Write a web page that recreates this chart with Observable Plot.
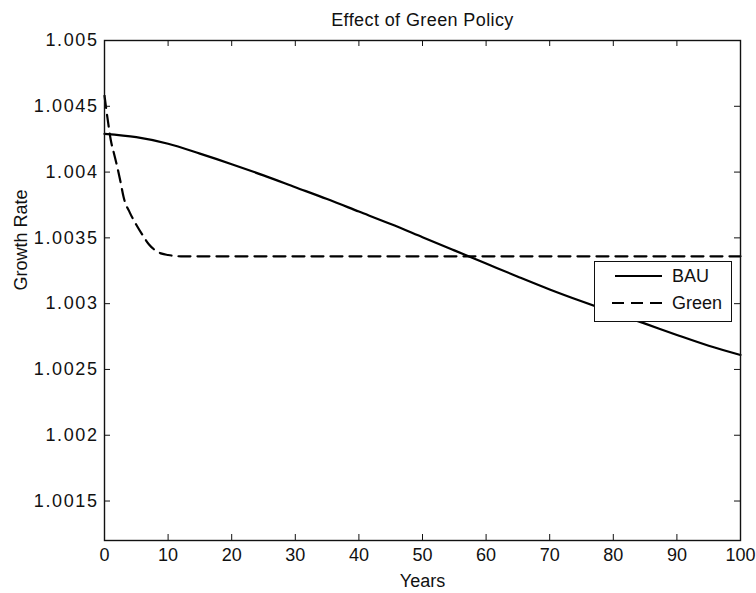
<!DOCTYPE html>
<html>
<head>
<meta charset="utf-8">
<script src="https://cdn.jsdelivr.net/npm/d3@7"></script>
<script src="https://cdn.jsdelivr.net/npm/@observablehq/plot@0.6"></script>
<style>
  body { margin: 0; background: white; }
  #wrap { position: relative; width: 756px; height: 593px; font-family: "Liberation Sans", Arial, sans-serif; }
  #legend { position: absolute; left: 594px; top: 261px; width: 138px; height: 61px; box-sizing: border-box; border: 1px solid #111; background: white; }
</style>
</head>
<body>
<div id="wrap"><div id="chart"></div><div id="legend"></div></div>
<script>
// ---- data ----
const titleText = "Effect of Green Policy";
const xLabel = "Years";
const yLabel = "Growth Rate";
const seriesNames = ["BAU", "Green"];

const bauYears = [0, 5, 10, 15, 20, 25, 30, 35, 40, 45, 50, 55, 60, 65, 70, 75, 80, 85, 90, 95, 100];
const bauValues = [1.00429, 1.004265, 1.004215, 1.00414, 1.00406, 1.003975, 1.003885, 1.003795, 1.0037, 1.003605,
                   1.003505, 1.003405, 1.003305, 1.003205, 1.003108, 1.003018, 1.002932, 1.002848, 1.002762, 1.00268, 1.00261];

const greenYears = [0, 0.5, 1, 1.5, 2, 2.5, 3, 4, 5, 6, 7, 8, 9, 10, 12, 14, 20, 30, 40, 50, 60, 70, 80, 90, 100];
const greenValues = [1.00458, 1.00440, 1.00424, 1.00414, 1.00404, 1.00393, 1.00381, 1.00369, 1.00360, 1.00352,
                     1.00345, 1.003405, 1.00338, 1.00337, 1.00336, 1.00336, 1.00336, 1.00336, 1.00336, 1.00336,
                     1.00336, 1.00336, 1.00336, 1.00336, 1.00336];

const xTicks = [0, 10, 20, 30, 40, 50, 60, 70, 80, 90, 100];
const yTicks = [1.0015, 1.002, 1.0025, 1.003, 1.0035, 1.004, 1.0045, 1.005];
const yTickLabels = ["1.0015", "1.002", "1.0025", "1.003", "1.0035", "1.004", "1.0045", "1.005"];
const xDomain = [0, 100];
const yDomain = [1.0012, 1.005];

// ---- layout ----
const W = 756, H = 593;
const mL = 104, mR = 16, mT = 40, mB = 53;
const fw = W - mL - mR, fh = H - mT - mB;
const tickLen = 6;
const ink = "#111";

const bau = bauYears.map((x, i) => ({x, y: bauValues[i]}));
const green = greenYears.map((x, i) => ({x, y: greenValues[i]}));
const yLab = new Map(yTicks.map((t, i) => [t, yTickLabels[i]]));

const chart = Plot.plot({
  width: W, height: H,
  marginLeft: mL, marginRight: mR, marginTop: mT, marginBottom: mB,
  style: {fontFamily: '"Liberation Sans", Arial, sans-serif', fontSize: "18px", background: "white", color: ink},
  x: {domain: xDomain, ticks: xTicks},
  y: {domain: yDomain, ticks: yTicks},
  marks: [
    Plot.line(green, {x: "x", y: "y", stroke: "black", strokeWidth: 2.2, strokeDasharray: "12,7", curve: "monotone-x"}),
    Plot.line(bau, {x: "x", y: "y", stroke: "black", strokeWidth: 2.2, curve: "monotone-x"}),
    // inward ticks on all four sides
    Plot.tickY(yTicks, {y: d => d, insetRight: fw - tickLen, stroke: ink}),
    Plot.tickY(yTicks, {y: d => d, insetLeft: fw - tickLen, stroke: ink}),
    Plot.tickX(xTicks, {x: d => d, insetTop: fh - tickLen, stroke: ink}),
    Plot.tickX(xTicks, {x: d => d, insetBottom: fh - tickLen, stroke: ink}),
    Plot.frame({stroke: ink, strokeWidth: 1.4}),
    Plot.axisX({ticks: xTicks, tickSize: 0, tickPadding: 8, label: null, fontSize: 18, fill: ink}),
    Plot.axisY({ticks: yTicks, tickSize: 0, tickPadding: 6, label: null, tickFormat: d => yLab.get(d), fontSize: 18, fill: ink}),
    Plot.text([titleText], {frameAnchor: "top", dy: -20, lineAnchor: "middle", fontSize: 18, fill: ink}),
    Plot.text([xLabel], {frameAnchor: "bottom", dy: 41, lineAnchor: "middle", fontSize: 18, fill: ink}),
    Plot.text([yLabel], {frameAnchor: "left", dx: -83, rotate: -90, lineAnchor: "middle", fontSize: 18, fill: ink})
  ]
});
document.getElementById("chart").appendChild(chart);
d3.select(chart).selectAll('g[aria-label="y-axis tick label"] text').style("letter-spacing", "1.6px");
d3.select(chart).selectAll('g[aria-label="text"] text').filter(function() { return this.textContent === titleText; })
  .style("letter-spacing", "0.4px");

// ---- legend ----
const lg = d3.select("#legend").append("svg").attr("width", 136).attr("height", 59)
  .style("font-family", '"Liberation Sans", Arial, sans-serif').style("font-size", "18px");
const rows = [
  {name: seriesNames[0], dash: null, x1: 20, y: 14},
  {name: seriesNames[1], dash: "12,7", x1: 17, y: 41}
];
rows.forEach(r => {
  lg.append("line").attr("x1", r.x1).attr("x2", 67).attr("y1", r.y).attr("y2", r.y)
    .attr("stroke", "black").attr("stroke-width", 2.2).attr("stroke-dasharray", r.dash);
  lg.append("text").attr("x", 77).attr("y", r.y).attr("dy", "0.35em").attr("fill", ink).text(r.name);
});
</script>
</body>
</html>
